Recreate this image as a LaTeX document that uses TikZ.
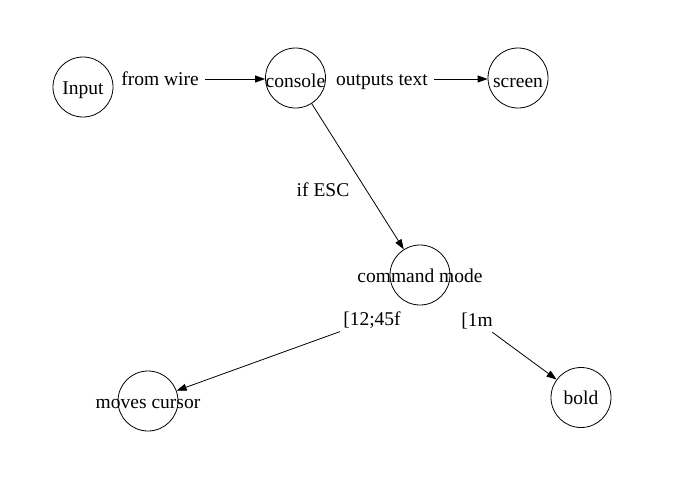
\documentclass[tikz,border=0pt]{standalone}
\usepackage{fontspec}
\setmainfont{Liberation Serif}
\usetikzlibrary{arrows.meta}
\begin{document}
\begin{tikzpicture}[x=1pt,y=-1pt,
  state/.style={circle,draw,line width=0.8pt,minimum size=60pt,inner sep=0pt},
  txt/.style={font=\fontsize{19.5}{23}\selectfont,inner sep=0pt,text height=18pt,text depth=4pt},
  elabel/.style={font=\fontsize{19.5}{23}\selectfont,inner xsep=6pt,inner ysep=3pt},
  edge/.style={draw,line width=0.8pt,-{Triangle[length=10pt,width=7pt]}}]
\useasboundingbox (0,0) rectangle (684,477);
% states
\node[state,label={[txt]center:Input}] (input) at (83,87) {};
\node[state,label={[txt,yshift=-2pt]center:console}] (console) at (295.5,78) {};
\node[state,label={[txt,yshift=-2pt]center:screen}] (screen) at (518,78) {};
\node[state,label={[txt]center:command mode}] (cmd) at (420,275) {};
\node[state,label={[txt]center:moves cursor}] (mc) at (148,401) {};
\node[state,label={[txt]center:bold}] (bold) at (581,397.5) {};
% edge labels
\node[elabel,anchor=base] (fw) at (160,85) {from wire};
\node[elabel,anchor=base] (ot) at (382,85) {outputs text};
\node[elabel] (esc) at (323,190) {if ESC};
\node[elabel] (cur) at (372,320) {[12;45f};
\node[elabel] (bm) at (477,321) {[1m};
% edges
\draw[edge] (fw.east |- 0,79) -- (console.west |- 0,79);
\draw[edge] (ot.east |- 0,79) -- (screen.west |- 0,79);
\draw[edge] (console) -- (cmd);
\draw[edge] (cur) -- (mc);
\draw[edge] (bm) -- (bold);
\end{tikzpicture}
\end{document}
